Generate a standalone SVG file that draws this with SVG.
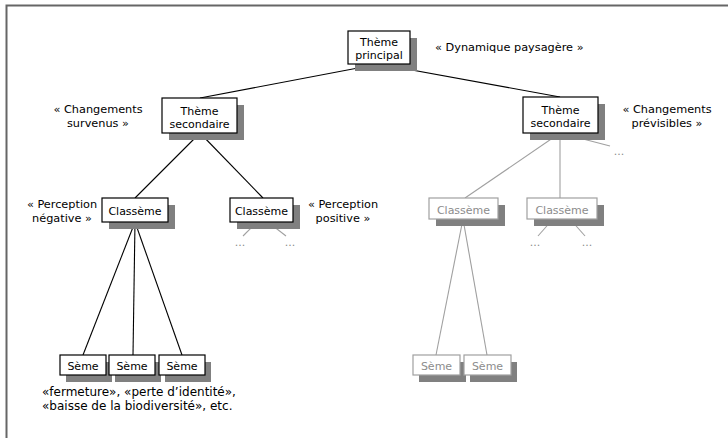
<svg xmlns="http://www.w3.org/2000/svg" width="728" height="438" viewBox="0 0 728 438">
  <style>
    text { font-family: "DejaVu Sans", Verdana, sans-serif; font-size: 11px; fill: #000; }
    .lbl { font-size: 11.3px; }
    .cap { font-size: 12px; }
    .c { text-anchor: middle; }
    .shadow { fill: #808080; stroke: none; }
    .box { fill: #fff; stroke: #000; stroke-width: 1.2; }
    .gbox { fill: #fff; stroke: #a0a0a0; stroke-width: 1.2; }
    .gtxt { fill: #8c8c8c; }
    .ln { stroke: #000; stroke-width: 1.1; fill: none; }
    .gln { stroke: #a0a0a0; stroke-width: 1.1; fill: none; }
  </style>
  <rect width="728" height="438" fill="#fff"/>
  <!-- frame -->
  <path d="M6.5,438 V5.5 H728" fill="none" stroke="#666" stroke-width="2"/>

  <!-- connectors -->
  <g id="connectors">
    <line class="ln" x1="379" y1="64" x2="200" y2="98"/>
    <line class="ln" x1="379" y1="64" x2="560" y2="97"/>
    <line class="ln" x1="200" y1="133" x2="135" y2="198"/>
    <line class="ln" x1="200" y1="133" x2="263" y2="198"/>
    <line class="ln" x1="135" y1="222" x2="83" y2="355"/>
    <line class="ln" x1="135" y1="222" x2="133" y2="355"/>
    <line class="ln" x1="135" y1="222" x2="182" y2="355"/>
    <line class="gln" x1="257" y1="222" x2="243" y2="236"/>
    <line class="gln" x1="268" y1="222" x2="286" y2="236"/>
    <line class="gln" x1="560" y1="133" x2="465" y2="198"/>
    <line class="gln" x1="560" y1="133" x2="560" y2="198"/>
    <line class="gln" x1="560" y1="133" x2="610" y2="146"/>
    <line class="gln" x1="463" y1="219" x2="436" y2="355"/>
    <line class="gln" x1="463" y1="219" x2="487" y2="355"/>
    <line class="gln" x1="553" y1="219" x2="538" y2="236"/>
    <line class="gln" x1="570" y1="219" x2="585" y2="236"/>
  </g>

  <!-- nodes -->
  <g id="theme-principal">
    <rect class="shadow" x="355" y="38" width="62" height="33"/>
    <rect class="box" x="348" y="31" width="62" height="33"/>
    <text class="c" x="379" y="46">Thème</text>
    <text class="c" x="379" y="59">principal</text>
  </g>
  <g id="theme-secondaire-1">
    <rect class="shadow" x="169" y="105" width="75" height="35"/>
    <rect class="box" x="162" y="98" width="75" height="35"/>
    <text class="c" x="199.5" y="115">Thème</text>
    <text class="c" x="199.5" y="128">secondaire</text>
  </g>
  <g id="theme-secondaire-2">
    <rect class="shadow" x="530" y="104" width="75" height="36"/>
    <rect class="box" x="523" y="97" width="75" height="36"/>
    <text class="c" x="560.5" y="114">Thème</text>
    <text class="c" x="560.5" y="127">secondaire</text>
  </g>
  <g id="classeme-negatif">
    <rect class="shadow" x="109" y="205" width="66" height="24"/>
    <rect class="box" x="102" y="198" width="66" height="24"/>
    <text class="c" x="135" y="215">Classème</text>
  </g>
  <g id="classeme-positif">
    <rect class="shadow" x="237" y="205" width="63" height="24"/>
    <rect class="box" x="230" y="198" width="63" height="24"/>
    <text class="c" x="261.5" y="215">Classème</text>
  </g>
  <g id="classeme-3">
    <rect class="shadow" x="436" y="205" width="69" height="21"/>
    <rect class="gbox" x="429" y="198" width="69" height="21"/>
    <text class="c gtxt" x="463.5" y="214">Classème</text>
  </g>
  <g id="classeme-4">
    <rect class="shadow" x="534" y="205" width="70" height="21"/>
    <rect class="gbox" x="527" y="198" width="70" height="21"/>
    <text class="c gtxt" x="562" y="214">Classème</text>
  </g>
  <g id="seme-1">
    <rect class="shadow" x="66" y="362" width="46" height="20"/>
    <rect class="box" x="60" y="355" width="46" height="20"/>
    <text class="c" x="83" y="370">Sème</text>
  </g>
  <g id="seme-2">
    <rect class="shadow" x="115" y="362" width="46" height="20"/>
    <rect class="box" x="109" y="355" width="46" height="20"/>
    <text class="c" x="132" y="370">Sème</text>
  </g>
  <g id="seme-3">
    <rect class="shadow" x="165" y="362" width="46" height="20"/>
    <rect class="box" x="159" y="355" width="46" height="20"/>
    <text class="c" x="182" y="370">Sème</text>
  </g>
  <g id="seme-4">
    <rect class="shadow" x="419" y="362" width="47" height="20"/>
    <rect class="gbox" x="413" y="355" width="47" height="20"/>
    <text class="c gtxt" x="436.5" y="370">Sème</text>
  </g>
  <g id="seme-5">
    <rect class="shadow" x="470" y="362" width="47" height="20"/>
    <rect class="gbox" x="464" y="355" width="47" height="20"/>
    <text class="c gtxt" x="487.5" y="370">Sème</text>
  </g>

  <!-- ellipses for omitted branches -->
  <g id="ellipses">
    <text class="c gtxt" x="240" y="246">...</text>
    <text class="c gtxt" x="290" y="246">...</text>
    <text class="c gtxt" x="535" y="246">...</text>
    <text class="c gtxt" x="587" y="246">...</text>
    <text class="c gtxt" x="619" y="155">...</text>
  </g>

  <!-- annotations -->
  <g id="labels">
    <text class="lbl" x="435" y="51">« Dynamique paysagère »</text>
    <text class="lbl c" x="98" y="113">« Changements</text>
    <text class="lbl c" x="98" y="127">survenus »</text>
    <text class="lbl c" x="667" y="113">« Changements</text>
    <text class="lbl c" x="667" y="127">prévisibles »</text>
    <text class="lbl c" x="62" y="208">« Perception</text>
    <text class="lbl c" x="62" y="222">négative »</text>
    <text class="lbl c" x="343" y="208">« Perception</text>
    <text class="lbl c" x="343" y="222">positive »</text>
    <text class="cap" x="42" y="396">«fermeture», «perte d’identité»,</text>
    <text class="cap" x="42" y="410">«baisse de la biodiversité», etc.</text>
  </g>
</svg>
